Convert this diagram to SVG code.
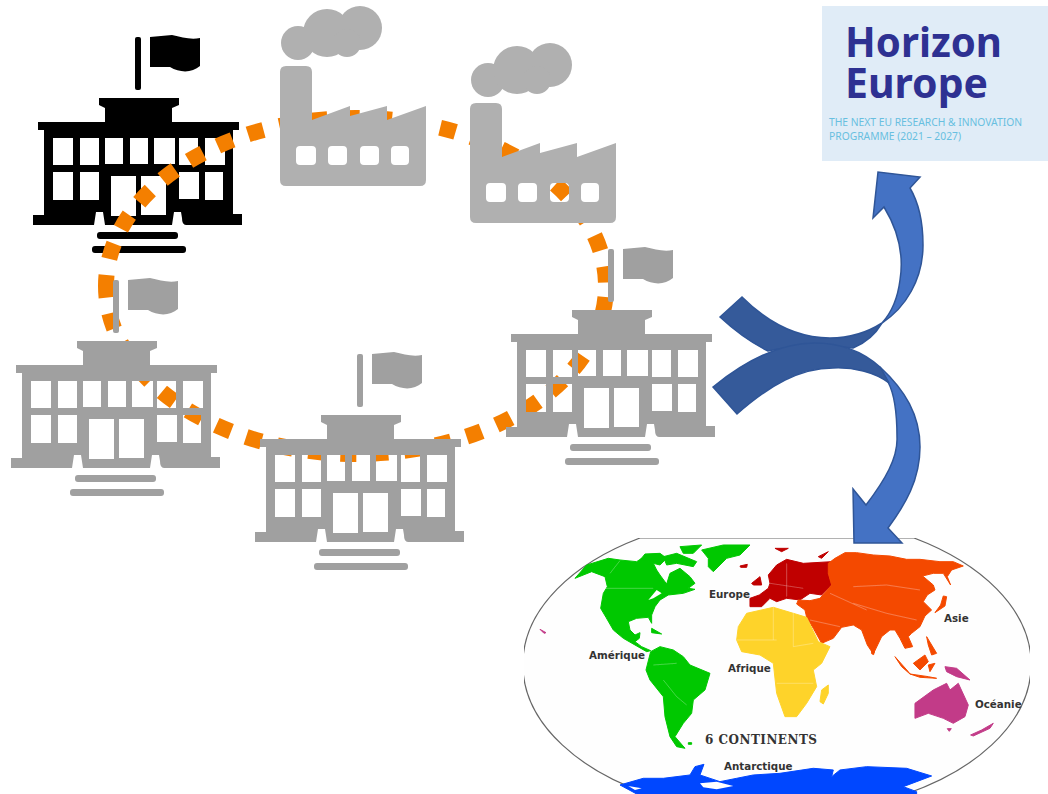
<svg xmlns="http://www.w3.org/2000/svg" width="1048" height="794" viewBox="0 0 1048 794">
<style>
.gray{fill:#a0a0a0}
.black{fill:#000}
.fac{fill:#b0b0b0}
.lbl{font-family:"DejaVu Sans",sans-serif;font-weight:bold;font-size:10.3px;fill:#333}
.hz{font-family:"Noto Sans","DejaVu Sans",sans-serif;font-weight:bold;font-size:42px;fill:#2e3192}
.hs{font-family:"Noto Sans","DejaVu Sans",sans-serif;font-size:10px;fill:#68bfe0}
.light{fill:#4472c4;stroke:#2f5597;stroke-width:1.5;stroke-linejoin:miter}
.dark{fill:#355a9a;stroke:#2f5597;stroke-width:1.5;stroke-linejoin:miter}
.ring{fill:none;stroke:#f47f00;stroke-width:16}
.b{fill:none;stroke:#fff;stroke-opacity:.55;stroke-width:1.5}
.land{stroke-width:3;stroke-linejoin:round}
</style>
<defs>
<filter id="soft" x="-5%" y="-5%" width="110%" height="110%"><feGaussianBlur stdDeviation="0.6"/></filter>
<filter id="soft2" x="-5%" y="-5%" width="110%" height="110%"><feGaussianBlur stdDeviation="2"/></filter>
<clipPath id="mapclip"><rect x="524" y="538" width="506" height="256"/></clipPath>
<g id="school">
<rect x="135" y="37" width="6" height="53" rx="2"/>
<path d="M150,37 L172,35 C182,37 190,40 200,38 L200,66 C192,73 180,73 170,67 L150,67 Z"/>
<path fill-rule="evenodd" d="M99,98 H179 V105 L172,108 V122 H239 V130 H233 V214 H242 V225 H186 Q182,225 182,218 L181,212 H174 L172,225 H105 L103,212 H96 L94,225 H33 V215 H44 V130 H38 V122 H105 V108 L99,105 Z
M53,138H73V165H53Z M80,138H99V165H80Z M105,138H123V164H105Z M130,138H148V164H130Z M154,138H175V164H154Z M179,138H198V165H179Z M205,138H225V165H205Z
M53,172H73V200H53Z M80,172H99V200H80Z M179,172H199V199H179Z M205,172H223V200H205Z
M111,176H136V216H111Z M141,176H166V215H141Z"/>
<rect x="97" y="232" width="81" height="7" rx="3"/>
<rect x="92" y="246" width="94" height="7" rx="3"/>
</g>
<g id="factory">
<circle cx="298" cy="43" r="17"/><circle cx="327" cy="33" r="24"/><circle cx="360" cy="28" r="22"/><circle cx="347" cy="43" r="14"/>
<path fill-rule="evenodd" d="M286,66 H306 Q312,66 312,72 V120 L350,106 V116 L387,106 V120 L426,106 V180 Q426,186 420,186 H286 Q280,186 280,180 V72 Q280,66 286,66 Z
M300,146H312Q316,146 316,150V161Q316,165 312,165H300Q296,165 296,161V150Q296,146 300,146Z
M332,146H343Q347,146 347,150V161Q347,165 343,165H332Q328,165 328,161V150Q328,146 332,146Z
M364,146H375Q379,146 379,150V161Q379,165 375,165H364Q360,165 360,161V150Q360,146 364,146Z
M395,146H405Q409,146 409,150V161Q409,165 405,165H395Q391,165 391,161V150Q391,146 395,146Z"/>
</g>
</defs>
<rect width="1048" height="794" fill="#fff"/>

<g id="world-map">
<g clip-path="url(#mapclip)">
<path d="M640,538 L914,538 A253,150 0 0 1 906,794 L648,794 A253,150 0 0 1 640,538 Z" fill="#fefefe" stroke="#666" stroke-width="1.2"/>
<g transform="translate(520,530) scale(0.3333)" filter="url(#soft2)">
<path class="land" fill="#00c800" stroke="#00c800" d="M165,145 L200,105 L265,85 L300,90 L350,95 L365,85 L400,100 L410,120 L420,135 L440,162 L450,130 L480,115 L510,140 L525,160 L505,175 L525,178 L490,190 L445,195 L420,210 L405,230 L395,255 L395,280 L385,262 L350,265 L325,275 L330,300 L345,315 L360,308 L358,325 L345,335 L365,350 L392,362 L380,365 L345,345 L310,325 L280,300 L258,262 L242,235 L250,190 L262,170 L255,140 L215,125 Z"/>
<path class="land" fill="#00c800" stroke="#00c800" d="M545,60 L610,45 L690,45 L660,75 L620,85 L580,125 L565,110 L565,85 Z M395,295 L425,312 L395,308 Z M362,88 L375,72 L420,70 L440,85 L420,105 L400,100 Z M430,80 L470,70 L530,95 L520,110 L470,100 L440,105 Z M480,50 L545,45 L520,70 L490,70 Z M505,638 l10,0 l0,5 l-10,0 Z"/>
<path class="land" fill="#00c800" stroke="#00c800" d="M392,365 L420,350 L460,360 L490,380 L510,405 L570,430 L555,480 L520,510 L515,550 L490,580 L465,620 L495,655 L470,650 L450,620 L435,560 L430,500 L390,450 L378,420 Z"/>
<path fill="#fff" d="M385,210 L410,180 L425,190 L400,205 Z"/>
<path class="land" fill="#c00000" stroke="#c00000" d="M690,205 L718,195 L745,175 L750,160 L745,135 L770,105 L800,88 L850,100 L935,95 L925,130 L935,165 L905,195 L870,190 L840,210 L800,205 L770,215 L750,205 L725,230 L690,230 Z M695,160 L720,140 L725,165 L700,165 Z M660,108 L682,103 L680,112 L662,112 Z M765,55 L805,55 L785,65 Z M895,80 L925,65 L905,85 Z"/>
<path class="land" fill="#f44a05" stroke="#f44a05" d="M925,100 L945,85 L975,68 L1010,68 L1060,75 L1110,78 L1160,88 L1200,88 L1260,95 L1300,95 L1330,108 L1295,120 L1282,140 L1292,165 L1270,130 L1240,130 L1208,138 L1240,165 L1245,180 L1222,195 L1210,215 L1235,240 L1215,258 L1200,290 L1175,310 L1165,320 L1178,350 L1155,355 L1140,325 L1125,300 L1110,300 L1085,320 L1060,372 L1042,345 L1025,300 L1000,285 L965,292 L940,325 L905,340 L880,295 L860,262 L855,240 L830,222 L835,210 L870,212 L900,205 L935,165 L925,130 Z"/>
<path class="land" fill="#f44a05" stroke="#f44a05" d="M1245,248 L1275,228 L1280,200 L1270,198 L1262,225 Z M1125,380 L1165,425 L1170,432 L1145,410 Z M1180,400 L1215,375 L1225,395 L1200,420 Z M1170,432 L1225,440 L1250,445 L1200,442 Z M1225,405 L1245,400 L1230,425 Z M1220,320 L1250,370 L1235,375 L1225,345 Z M1055,362 l8,4 l-2,8 l-6,-3 Z"/>
<path class="land" fill="#fed32b" stroke="#fed32b" d="M680,250 L760,232 L820,250 L860,262 L895,335 L930,350 L905,400 L880,420 L890,470 L860,520 L830,560 L795,560 L770,490 L760,400 L720,375 L665,365 L650,330 L655,290 Z M925,465 L925,490 L910,522 L900,515 L905,480 Z"/>
<path class="land" fill="#c23b88" stroke="#c23b88" d="M1185,520 L1240,480 L1280,460 L1290,480 L1315,460 L1345,525 L1335,560 L1300,580 L1270,565 L1225,550 L1185,565 Z M1275,410 L1310,415 L1350,450 L1310,440 L1280,425 Z M1352,615 L1385,600 L1420,580 L1410,595 L1360,618 Z M1282,596 l12,0 l-6,8 Z M60,298 L78,308 L72,310 Z"/>
<path class="land" fill="#0047ff" stroke="#0047ff" d="M300,765 L370,745 L430,745 L510,735 L525,710 L552,703 L540,735 L600,755 L650,745 L700,735 L780,730 L880,715 L940,720 L935,740 L960,720 L1040,710 L1160,715 L1235,738 L1190,755 L1150,770 L1190,785 L1190,792 L350,792 Z"/>
<path fill="#fff" d="M540,760 L590,755 L640,768 L590,778 L550,772 Z M325,768 L365,775 L345,780 Z"/>
<path class="b" d="M240,175 H400 M270,130 L300,92 M430,450 L470,500 L500,525 M400,405 L470,400 M650,330 H770 M760,232 V330 M820,250 V350 L880,340 M770,460 H880 M1000,170 L1100,165 L1200,180 M1000,220 L1100,250 L1190,270 M870,270 L960,290 M930,190 L1040,240"/>
<path class="b" d="M750,160 L850,175 M800,100 L800,200"/>
</g>
<text class="lbl" x="709" y="598">Europe</text>
<text class="lbl" x="589" y="659">Amérique</text>
<text class="lbl" x="728" y="672">Afrique</text>
<text class="lbl" x="944" y="622">Asie</text>
<text class="lbl" x="975" y="708">Océanie</text>
<text class="lbl" x="724" y="770">Antarctique</text>
<text x="705" y="744" font-family="'DejaVu Serif',serif" font-weight="bold" font-size="12px" fill="#333" textLength="112">6 CONTINENTS</text>
</g>
</g>

<g id="horizon-europe">
<rect x="822" y="6" width="226" height="155" fill="#e0ecf7"/>
<text class="hz" x="845" y="57" textLength="157" lengthAdjust="spacingAndGlyphs">Horizon</text>
<text class="hz" x="845" y="98" textLength="143" lengthAdjust="spacingAndGlyphs">Europe</text>
<text class="hs" x="829" y="126" textLength="193" lengthAdjust="spacingAndGlyphs">THE NEXT EU RESEARCH &amp; INNOVATION</text>
<text class="hs" x="829" y="140" textLength="132" lengthAdjust="spacingAndGlyphs">PROGRAMME (2021 – 2027)</text>
</g>

<g id="school-main" class="black" filter="url(#soft)"><use href="#school"/></g>

<g id="connectors">
<path class="ring" d="M606,286 A250,168 0 0 1 106,286" stroke-dasharray="16 16" stroke-dashoffset="-11"/>
<path class="ring" d="M106,286 A250,168 0 0 1 606,286" stroke-dasharray="16 16.4" stroke-dashoffset="5"/>
<path class="dark" d="M720,317 L742,297 C770,325 800,338 830,338 C850,338 868,332 882,323 C875,335 865,343 853,348 C825,345 795,345 768,351 C750,342 735,331 720,317 Z"/>
<path class="light" d="M882,323 C892,312 898,296 900,280 C904,255 898,230 884,207 L873,218 L878,172 L920,177 L910,188 C920,205 923,225 923,245 C923,280 905,308 882,323 Z"/>
<path class="light" d="M880,367 C905,390 920,415 920,447 C920,480 905,505 888,528 L902,543 L854,543 L853,489 L866,505 C885,480 898,458 897,437 C897,415 895,395 888,382 Z"/>
<path class="dark" d="M713,387 L737,414 C770,385 800,368 833,368 C853,367 875,372 889,383 L880,367 C862,351 840,343 815,343 C775,343 740,365 713,387 Z"/>
</g>

<g id="factory-1" class="fac" filter="url(#soft)"><use href="#factory"/></g>
<g id="factory-2" class="fac" filter="url(#soft)"><use href="#factory" transform="translate(190,37)"/></g>
<g id="school-1" class="gray" filter="url(#soft)"><use href="#school" transform="translate(-22,243)"/></g>
<g id="school-2" class="gray" filter="url(#soft)"><use href="#school" transform="translate(222,317)"/></g>
<g id="school-3" class="gray" filter="url(#soft)"><use href="#school" transform="translate(473,212)"/></g>
</svg>
